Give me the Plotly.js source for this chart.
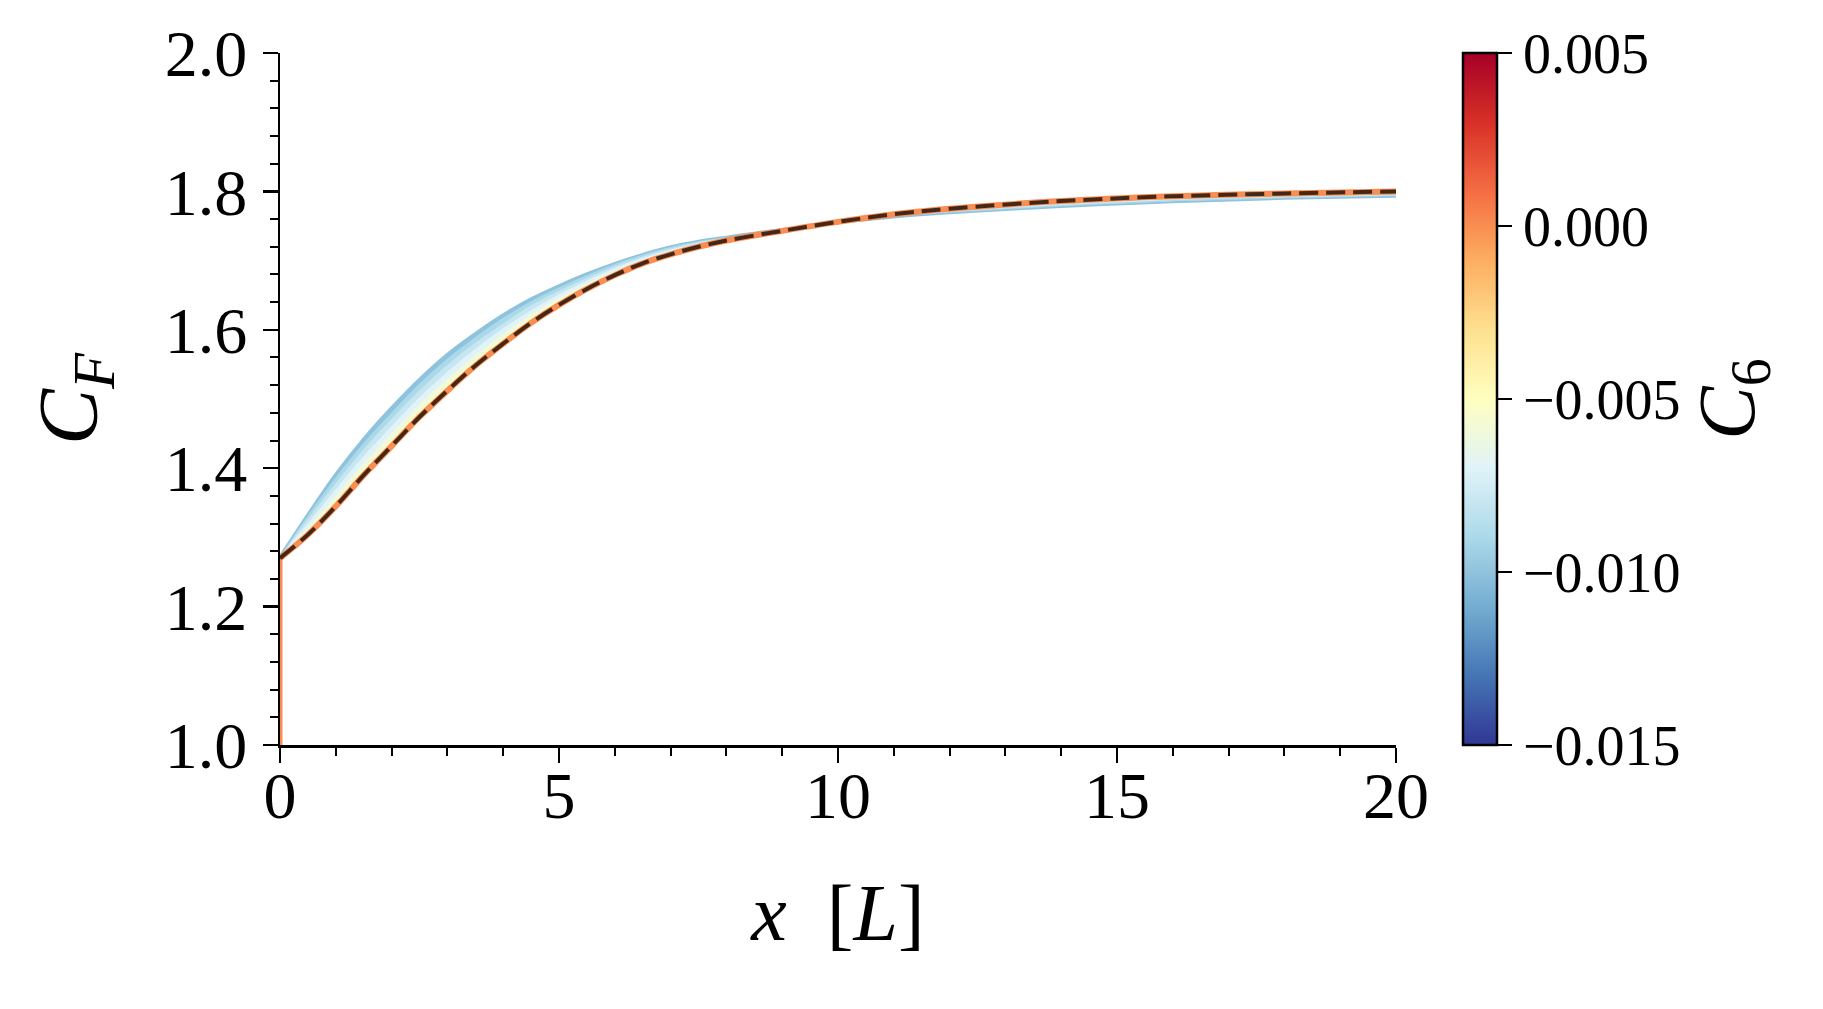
<!DOCTYPE html>
<html>
<head>
<meta charset="utf-8">
<script src="https://cdn.plot.ly/plotly-3.0.1.min.js"></script>
<style>html,body{margin:0;padding:0;background:#fff;}#chart{width:1823px;height:1009px;}</style>
</head>
<body>
<div id="chart"></div>
<script>
// ---- data ----
// the first point (x = 0, C_F = 1.0) is the start of the vertical jump at the inlet
const xPos = [0, 0, 0.5, 1, 1.5, 2, 2.5, 3, 3.5, 4, 4.5, 5, 5.5, 6, 6.5, 7, 7.5, 8, 9, 10, 11, 12, 14, 16, 18, 20];

// nominal curve, c6 = 0.000
const cfNominal = [1.000, 1.270, 1.304, 1.345, 1.390, 1.432, 1.474, 1.512, 1.548, 1.580, 1.610, 1.636, 1.659, 1.679, 1.696, 1.709, 1.720, 1.729, 1.743, 1.756, 1.767, 1.775, 1.786, 1.793, 1.797, 1.800];

// swept curves
const c6Sweep = [-0.005, -0.006, -0.007, -0.008, -0.009, -0.010];
const cfC6m005 = [1.000, 1.271, 1.308, 1.351, 1.397, 1.439, 1.481, 1.519, 1.554, 1.586, 1.615, 1.640, 1.662, 1.681, 1.698, 1.711, 1.722, 1.730, 1.744, 1.756, 1.766, 1.774, 1.784, 1.791, 1.795, 1.798];
const cfC6m006 = [1.000, 1.271, 1.313, 1.359, 1.406, 1.449, 1.491, 1.528, 1.562, 1.593, 1.621, 1.645, 1.666, 1.684, 1.700, 1.713, 1.723, 1.731, 1.744, 1.756, 1.766, 1.773, 1.783, 1.790, 1.794, 1.797];
const cfC6m007 = [1.000, 1.272, 1.319, 1.368, 1.416, 1.459, 1.501, 1.538, 1.571, 1.601, 1.627, 1.650, 1.670, 1.688, 1.703, 1.715, 1.725, 1.733, 1.745, 1.756, 1.765, 1.772, 1.782, 1.789, 1.793, 1.796];
const cfC6m008 = [1.000, 1.273, 1.325, 1.377, 1.426, 1.470, 1.511, 1.548, 1.580, 1.608, 1.634, 1.655, 1.674, 1.691, 1.705, 1.717, 1.726, 1.733, 1.745, 1.755, 1.764, 1.770, 1.780, 1.787, 1.792, 1.795];
const cfC6m009 = [1.000, 1.273, 1.330, 1.385, 1.435, 1.479, 1.521, 1.557, 1.588, 1.616, 1.640, 1.660, 1.678, 1.694, 1.708, 1.719, 1.728, 1.734, 1.745, 1.755, 1.763, 1.769, 1.779, 1.786, 1.790, 1.793];
const cfC6m010 = [1.000, 1.274, 1.335, 1.393, 1.444, 1.489, 1.530, 1.566, 1.596, 1.623, 1.646, 1.665, 1.682, 1.697, 1.710, 1.721, 1.729, 1.735, 1.746, 1.754, 1.762, 1.768, 1.777, 1.784, 1.789, 1.792];
const cfSweepSeries = [cfC6m005, cfC6m006, cfC6m007, cfC6m008, cfC6m009, cfC6m010];

const c6Nominal = 0.000;
const c6Min = -0.015, c6Max = 0.005;
const cbTicks = [-0.015, -0.010, -0.005, 0.000, 0.005];

// ---- styling ----
const rdylbuR = ['#313695','#4575b4','#74add1','#abd9e9','#e0f3f8','#ffffbf','#fee090','#fdae61','#f46d43','#d73027','#a50026'];
const colorscale = rdylbuR.map((c, i) => [i / (rdylbuR.length - 1), c]);
function hexToRgb(h){ return [parseInt(h.slice(1,3),16), parseInt(h.slice(3,5),16), parseInt(h.slice(5,7),16)]; }
function cmap(v){
  let t = (v - c6Min) / (c6Max - c6Min);
  t = Math.max(0, Math.min(1, t));
  const n = rdylbuR.length - 1;
  const i = Math.min(n - 1, Math.floor(t * n));
  const f = t * n - i;
  const a = hexToRgb(rdylbuR[i]), b = hexToRgb(rdylbuR[i + 1]);
  const c = a.map((av, k) => Math.round(av + (b[k] - av) * f));
  return 'rgb(' + c.join(',') + ')';
}

const FONT = '"Liberation Serif", "DejaVu Serif", serif';
const SPL = {shape: 'spline', smoothing: 1};
const smooth = arr => arr.slice(1);      // curve part (after the jump)
const jump = arr => arr.slice(0, 2);     // vertical jump at x = 0
const traces = [];

// invisible base for the first fill
traces.push({x: smooth(xPos), y: smooth(cfNominal), type: 'scatter', mode: 'lines',
  line: Object.assign({width: 0, color: cmap(c6Nominal)}, SPL), hoverinfo: 'skip', showlegend: false});

c6Sweep.forEach((c6, i) => {
  const col = cmap(c6);
  traces.push({x: smooth(xPos), y: smooth(cfSweepSeries[i]), type: 'scatter', mode: 'lines',
    line: Object.assign({width: 1.5, color: col}, SPL), fill: 'tonexty', fillcolor: col,
    hoverinfo: 'skip', showlegend: false});
});

// nominal: vertical jump + thick line
traces.push({x: jump(xPos), y: jump(cfNominal), type: 'scatter', mode: 'lines',
  line: {width: 5, color: cmap(c6Nominal)}, hoverinfo: 'skip', showlegend: false});
traces.push({x: smooth(xPos), y: smooth(cfNominal), type: 'scatter', mode: 'lines',
  line: Object.assign({width: 6, color: cmap(c6Nominal)}, SPL), hoverinfo: 'skip', showlegend: false});
// dashed overlay
traces.push({x: smooth(xPos), y: smooth(cfNominal), type: 'scatter', mode: 'lines',
  line: Object.assign({width: 4, color: 'rgba(0,0,0,0.72)', dash: '19px,8px'}, SPL), hoverinfo: 'skip', showlegend: false});

// colorbar carrier
traces.push({x: [null], y: [null], type: 'scatter', mode: 'markers', hoverinfo: 'skip', showlegend: false,
  marker: {color: c6Sweep.concat([c6Nominal]), colorscale: colorscale, cmin: c6Min, cmax: c6Max, showscale: true, size: 1,
    colorbar: {
      x: 1.060, xanchor: 'left', xpad: 0, y: 0.5, yanchor: 'middle', len: 1, lenmode: 'fraction', ypad: 0,
      thickness: 34, outlinewidth: 2.5, outlinecolor: '#000',
      tickmode: 'array', tickvals: cbTicks, tickformat: '.3f',
      ticks: 'outside', ticklen: 14, tickwidth: 2.5, tickcolor: '#000',
      tickfont: {family: FONT, size: 56, color: '#000'},
      title: {text: '<i>C</i><sub>6</sub>', side: 'right', font: {family: FONT, size: 80, color: '#000'}}
    }}});

const layout = {
  width: 1823, height: 1009,
  margin: {l: 280, r: 427, t: 53, b: 264},
  paper_bgcolor: '#fff', plot_bgcolor: '#fff',
  showlegend: false, hovermode: false,
  xaxis: {
    range: [0, 20], tick0: 0, dtick: 5, showgrid: false, zeroline: false,
    showline: true, linecolor: '#000', linewidth: 2.5,
    ticks: 'outside', ticklen: 15, tickwidth: 2.5, tickcolor: '#000',
    minor: {dtick: 1, ticks: 'outside', ticklen: 8, tickwidth: 2, tickcolor: '#000', showgrid: false},
    tickfont: {family: FONT, size: 66, color: '#000'}, ticklabelstandoff: -24,
    title: {text: '<i>x</i>\u00a0\u00a0[<i>L</i>]', font: {family: FONT, size: 80, color: '#000'}, standoff: 54}
  },
  yaxis: {
    range: [1, 2], tick0: 1, dtick: 0.2, tickformat: '.1f', showgrid: false, zeroline: false,
    showline: true, linecolor: '#000', linewidth: 2.5,
    ticks: 'outside', ticklen: 15, tickwidth: 2.5, tickcolor: '#000',
    minor: {dtick: 0.04, ticks: 'outside', ticklen: 8, tickwidth: 2, tickcolor: '#000', showgrid: false},
    tickfont: {family: FONT, size: 66, color: '#000'}, ticklabelstandoff: 2,
    title: {text: '<i>C</i><sub><i>F</i></sub>', font: {family: FONT, size: 84, color: '#000'}, standoff: 40}
  }
};

Plotly.newPlot('chart', traces, layout, {displayModeBar: false, staticPlot: true});
</script>
</body>
</html>
